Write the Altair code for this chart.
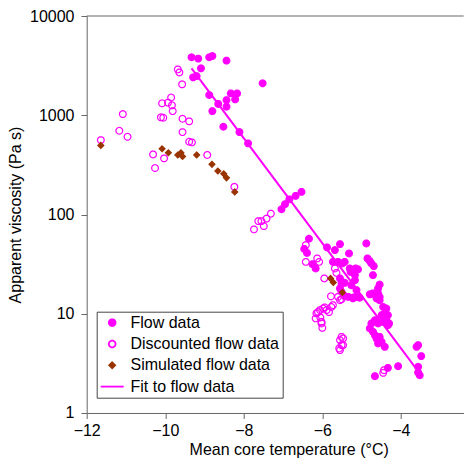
import math
import altair as alt
import pandas as pd

SERIES = ["Flow data", "Discounted flow data", "Simulated flow data", "Fit to flow data"]

flow_x = [-9.33, -9.16, -8.88, -8.80, -8.44, -9.09, -9.29, -9.20, -7.52, -8.88,
          -8.65, -8.80, -8.44, -8.44, -8.33, -8.22, -8.17, -8.52, -8.11, -7.89,
          -7.04, -6.95, -6.84, -6.68, -6.53,
          -6.34, -6.46, -6.39, -6.25, -6.17, -5.88, -5.55, -5.68, -5.32, -4.88,
          -5.73, -5.60, -5.49, -5.43, -5.28, -5.30, -5.15, -5.09, -4.85, -4.79,
          -4.75, -4.69, -4.71, -5.17, -5.17, -5.13, -5.20, -5.43, -5.55, -5.51,
          -5.55, -5.51, -5.26, -5.34, -5.43, -5.13, -5.05, -5.22, -4.54, -4.58,
          -4.66, -4.79, -4.72, -4.58, -4.62, -4.54, -4.62, -4.54, -4.45, -4.37,
          -4.41, -4.33, -4.49, -4.37, -4.45, -4.58, -4.75, -4.66, -4.30, -4.33,
          -4.79, -4.71, -4.66, -4.54, -4.62, -4.49, -4.58, -4.41, -3.60, -3.56,
          -3.48, -4.07, -4.33, -4.66, -3.56, -3.56, -3.52]
flow_y = [3840, 3720, 3840, 3950, 3550, 2970, 2410, 2480, 2100, 1600,
          1300, 1100, 1220, 1420, 1660, 1445, 1660, 766, 677, 521,
          113, 127, 142, 154, 169,
          57, 45, 41, 31.6, 28.6, 46.6, 50.3, 43.8, 40.5, 51.1,
          33.3, 33.3, 32.1, 33.3, 26.4, 28.6, 28.6, 28.0, 36.1, 33.9,
          32.1, 30.2, 24.5, 24.5, 21.8, 17.3, 14.6, 20.5, 22.7, 20.2,
          18.0, 16.6, 19.4, 14.8, 15.1, 14.8, 14.5, 14.3, 19.7, 18.0,
          16.0, 15.7, 16.0, 16.0, 14.8, 14.8, 14.3, 13.7, 11.7, 11.3,
          10.1, 9.68, 9.68, 8.61, 8.28, 7.98, 7.98, 8.61, 7.98, 7.67,
          7.11, 6.58, 6.08, 5.85, 5.64, 5.21, 5.02, 4.64, 4.64, 4.83,
          3.74, 2.96, 2.85, 2.35, 2.92, 2.56, 2.40]

disc_x = [-11.64, -11.08, -11.17, -10.96, -9.68, -9.64, -9.57, -10.08, -9.93, -9.85,
          -9.83, -9.81, -10.11, -10.05, -9.56, -9.39, -9.56, -9.39, -9.32, -10.31,
          -10.03, -10.26, -8.93, -8.24,
          -7.74, -7.63, -7.55, -7.49, -7.42, -7.31,
          -6.42, -6.42, -6.13, -6.08, -5.95, -5.68, -5.64, -5.78, -5.60, -5.55,
          -5.51, -5.77, -5.89, -5.98, -6.06, -6.15, -6.17, -6.02, -6.00, -6.11,
          -5.83, -5.94, -6.05, -6.02, -5.73, -5.51, -5.47, -5.55, -5.51, -5.57,
          -5.55, -5.47, -4.43, -4.45]
disc_y = [562, 1028, 698, 607, 2900, 2700, 2050, 1320, 1340, 1510,
          1260, 1100, 953, 944, 922, 868, 676, 541, 533, 403,
          368, 294, 398, 190,
          70.8, 85.7, 85.7, 76.4, 91, 102,
          49.2, 33.3, 36.1, 33.3, 22.7, 28.6, 25.8, 15.0, 14.8, 13.7,
          14.0, 11.7, 10.9, 11.3, 10.9, 10.1, 8.98, 8.28, 7.21, 10.4,
          10.4, 11.6, 9.18, 7.98, 12.2, 5.85, 5.64, 5.42, 4.83, 4.47,
          4.30, 4.83, 2.70, 2.54]

sim_x = [-11.64, -10.08, -9.92, -9.68, -9.60, -9.56, -9.20, -8.81, -8.66, -8.51,
         -8.44, -8.23, -5.79, -5.72, -5.49]
sim_y = [497, 459, 419, 398, 418, 385, 398, 320, 274, 257,
         234, 169, 22.7, 20.7, 16.4]

fit_x = [-9.33, -3.62]
fit_y = [2970, 2.83]

x_ticks = [-12, -10, -8, -6, -4]
y_ticks = [1, 10, 100, 1000, 10000]
x_domain = [-12, -2.4]
y_domain = [1, 10000]

pts = pd.DataFrame({
    "temp": flow_x + disc_x + sim_x,
    "visc": flow_y + disc_y + sim_y,
    "series": [SERIES[0]] * len(flow_x) + [SERIES[1]] * len(disc_x) + [SERIES[2]] * len(sim_x),
})
fit = pd.DataFrame({"temp": fit_x, "visc": fit_y, "series": [SERIES[3]] * len(fit_x)})
top = pd.DataFrame({"visc": [y_domain[1]]})

def polygon(r, n=28):
    p = [(r * math.cos(2 * math.pi * k / n), r * math.sin(2 * math.pi * k / n)) for k in range(n)]
    return "M" + "L".join(f"{a:.4f},{b:.4f}" for a, b in p) + "Z"

circle_path = polygon(0.48)
diamond_path = "M0,-0.42L0.42,0L0,0.42L-0.42,0Z"
line_path = "M-1.64,0L1.64,0"

MAG = "#FF00FF"
BRN = "#993300"
GRAY = "#666666"
FONT = "Liberation Sans"

x_enc = alt.X("temp:Q",
              scale=alt.Scale(domain=x_domain, nice=False, zero=False),
              axis=alt.Axis(values=x_ticks, title="Mean core temperature (°C)",
                            labelPadding=17.5, labelBaseline="alphabetic", labelFlush=False,
                            titleBaseline="alphabetic", titleY=42, titleX=202,
                            titleAlign="center", tickSize=5.5))
y_enc = alt.Y("visc:Q",
              scale=alt.Scale(type="log", domain=y_domain, nice=False),
              axis=alt.Axis(values=y_ticks, format="d", title="Apparent viscosity (Pa s)",
                            labelPadding=7, tickSize=5.7, labelFlush=False,
                            titleAngle=270, titleX=-66.5, titleY=198.5,
                            titleAlign="center", titleBaseline="alphabetic"))

stroke_enc = alt.Stroke("series:N", title=None,
                        scale=alt.Scale(domain=SERIES, range=[MAG, MAG, BRN, MAG]))

points = alt.Chart(pts).mark_point(size=196, strokeWidth=1.2, opacity=1, fillOpacity=1).encode(
    x=x_enc,
    y=y_enc,
    shape=alt.Shape("series:N", title=None,
                    scale=alt.Scale(domain=SERIES,
                                    range=[circle_path, circle_path, diamond_path, line_path])),
    fill=alt.Fill("series:N", title=None,
                  scale=alt.Scale(domain=SERIES,
                                  range=[MAG, "transparent", BRN, "transparent"])),
    stroke=stroke_enc,
)

line = alt.Chart(fit).mark_line(strokeWidth=2).encode(
    x=x_enc, y=y_enc, stroke=stroke_enc
)

top_rule = alt.Chart(top).mark_rule(color=GRAY, strokeWidth=1).encode(y=y_enc)

chart = alt.layer(top_rule, points, line).properties(
    width=377, height=397,
    autosize=alt.AutoSizeParams(type="none"),
    padding={"left": 78.7, "top": 8, "right": 0, "bottom": 46},
).configure(font=FONT).configure_view(
    strokeWidth=0
).configure_axis(
    grid=False, domainColor=GRAY, tickColor=GRAY,
    labelFont=FONT, labelFontSize=16, labelColor="black",
    titleFont=FONT, titleFontSize=16, titleFontWeight="normal", titleColor="black",
).configure_legend(
    orient="none", legendX=10, legendY=295.7, padding=3, rowPadding=5.3,
    symbolOffset=4.5, labelOffset=10.3, strokeColor="#444444", fillColor="white",
    symbolSize=196, symbolStrokeWidth=1.8, labelFont=FONT, labelFontSize=16,
    labelColor="black", cornerRadius=0,
)

chart.save("out.html", embed_options={"renderer": "svg", "actions": False})
